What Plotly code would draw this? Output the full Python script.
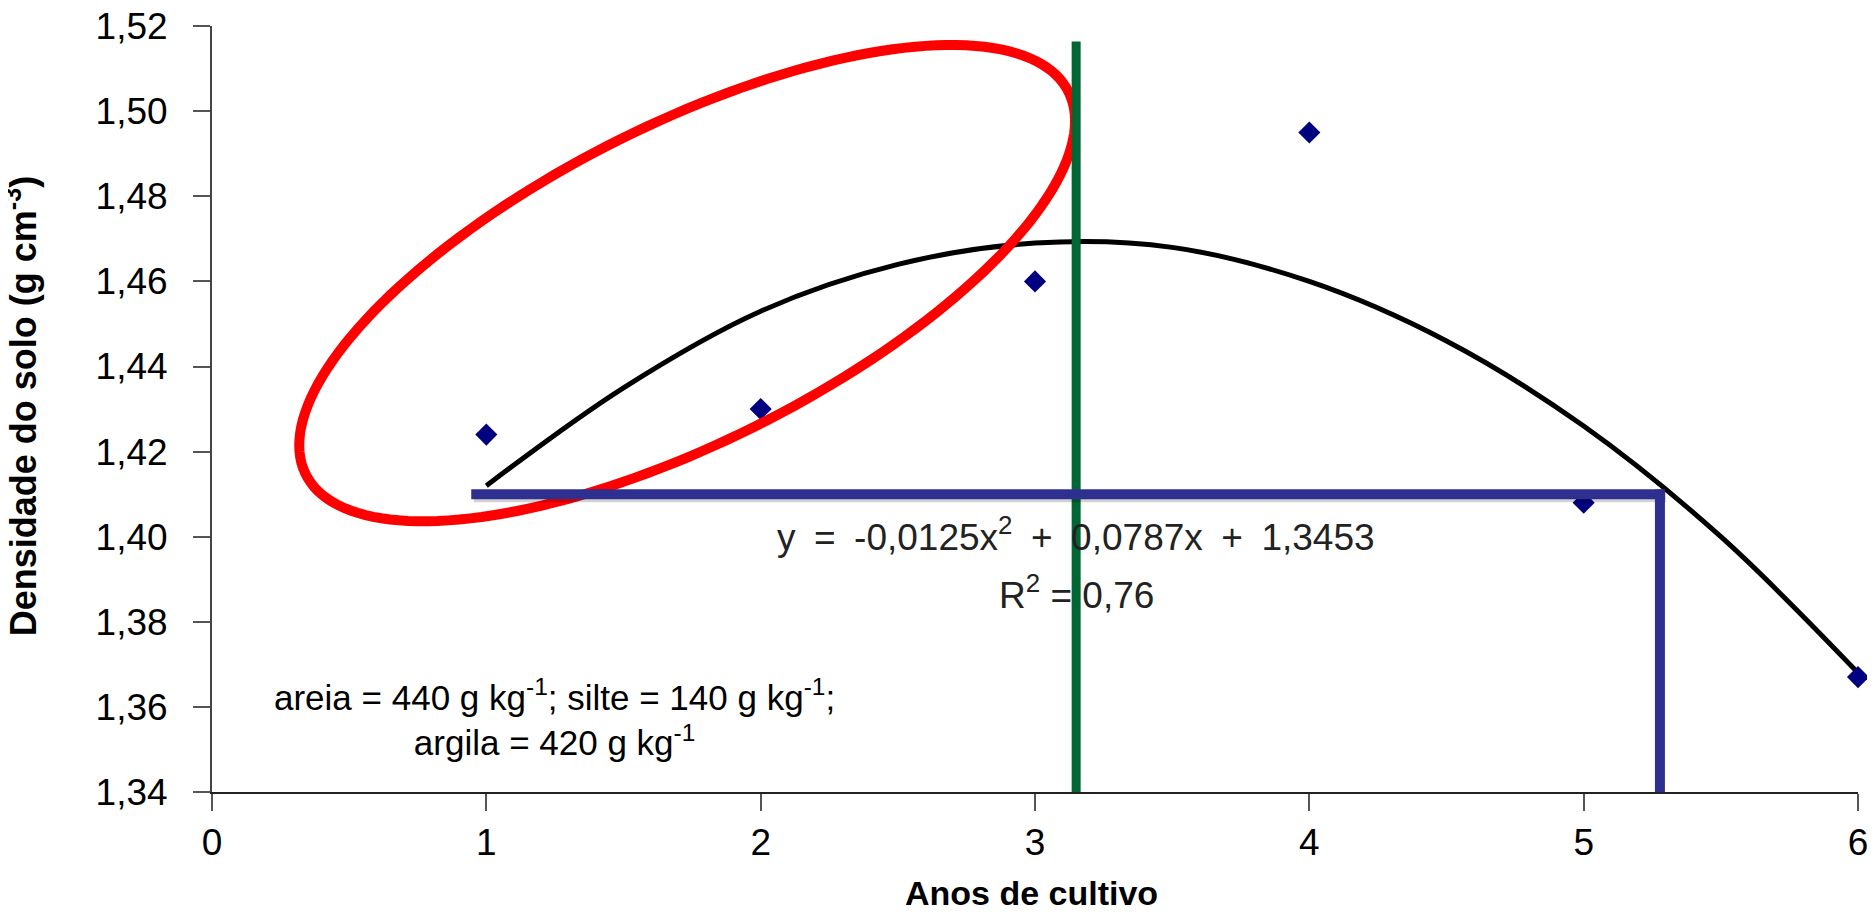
import numpy as np
import plotly.graph_objects as go

# ---- data ----
years = [1, 2, 3, 4, 5, 6]
density = [1.424, 1.430, 1.460, 1.495, 1.408, 1.367]

trend_x = [1.0, 1.5, 2.0, 2.5, 3.0, 3.5, 4.0, 4.5, 5.0, 5.5, 6.0]
trend_y = [1.412, 1.435, 1.453, 1.464, 1.469, 1.468, 1.460, 1.446, 1.426, 1.400, 1.368]

x_tickvals = [0, 1, 2, 3, 4, 5, 6]
x_ticktext = ["0", "1", "2", "3", "4", "5", "6"]
y_tickvals = [1.34, 1.36, 1.38, 1.40, 1.42, 1.44, 1.46, 1.48, 1.50, 1.52]
y_ticktext = ["1,34", "1,36", "1,38", "1,40", "1,42", "1,44", "1,46", "1,48", "1,50", "1,52"]

SP = "\u2002"  # wider spacing, as in the reference equation
equation_text = f"y{SP}={SP}-0,0125x<sup>2</sup>{SP}+{SP}0,0787x{SP}+{SP}1,3453"
r2_text = "R<sup>2</sup> = 0,76"
soil_text = "areia = 440 g kg<sup>-1</sup>; silte = 140 g kg<sup>-1</sup>;<br>argila = 420 g kg<sup>-1</sup>"

FONT = "Liberation Sans, Arial, sans-serif"

fig = go.Figure()
fig.add_trace(go.Scatter(x=trend_x, y=trend_y, mode="lines",
                         line=dict(color="black", width=5, shape="spline"),
                         hoverinfo="skip", showlegend=False))
fig.add_trace(go.Scatter(x=years, y=density, mode="markers",
                         marker=dict(symbol="diamond", size=17, color="#000080"),
                         showlegend=False, cliponaxis=False))

# ---- overlay highlight shapes ----
# red rotated ellipse (data coordinates)
ecx, ecy, esx, esy, er = 1.732, 1.4596, 1.414, 0.05597, 0.681
t = np.linspace(0, 2 * np.pi, 181)
ex = ecx + esx * np.cos(t)
ey = ecy + esy * (er * np.cos(t) + np.sqrt(1 - er ** 2) * np.sin(t))
path = "M " + " L ".join(f"{a:.4f},{b:.5f}" for a, b in zip(ex, ey)) + " Z"

shapes = [
    dict(type="path", path=path, xref="x", yref="y",
         line=dict(color="#FF0000", width=10), layer="above"),
    # green vertical line
    dict(type="line", xref="x", yref="y", x0=3.15, x1=3.15, y0=1.34, y1=1.5164,
         line=dict(color="#006633", width=9), layer="above"),
    # blue bracket shadow
    dict(type="line", xref="x", yref="y", x0=0.955, x1=5.30, y0=1.4093, y1=1.4093,
         line=dict(color="rgba(0,0,0,0.18)", width=10), layer="above"),
    # blue bracket
    dict(type="line", xref="x", yref="y", x0=0.945, x1=5.296, y0=1.41, y1=1.41,
         line=dict(color="#2E3090", width=10), layer="above"),
    dict(type="line", xref="x", yref="y", x0=5.278, x1=5.278, y0=1.34, y1=1.4111,
         line=dict(color="#2E3090", width=10), layer="above"),
    # left border strip of the image
    dict(type="rect", xref="paper", yref="paper", x0=-0.135, x1=-0.1268,
         y0=-0.2, y1=1.04, fillcolor="#777777", line=dict(width=0)),
]

annotations = [
    dict(x=3.15, y=1.4005, xref="x", yref="y", text=equation_text, showarrow=False,
         font=dict(family=FONT, size=37, color="#222222"), xanchor="center", yanchor="middle"),
    dict(x=3.15, y=1.3870, xref="x", yref="y", text=r2_text, showarrow=False,
         font=dict(family=FONT, size=37, color="#222222"), xanchor="center", yanchor="middle"),
    dict(x=1.25, y=1.3574, xref="x", yref="y", text=soil_text, showarrow=False, align="center",
         font=dict(family=FONT, size=35, color="black"), xanchor="center", yanchor="middle"),
    dict(x=-0.1163, y=0.503, xref="paper", yref="paper",
         text="<b>Densidade do solo (g cm<sup>-3</sup>)</b>", textangle=-90, showarrow=False,
         font=dict(family="Liberation Sans Narrow, Liberation Sans, Arial", size=36, color="black"),
         xanchor="center", yanchor="middle"),
    dict(x=0.498, y=-0.132, xref="paper", yref="paper", text="<b>Anos de cultivo</b>",
         showarrow=False,
         font=dict(family="Liberation Sans Narrow, Liberation Sans, Arial", size=34, color="black"),
         xanchor="center", yanchor="middle"),
]

# the page body adds an 8px offset, so the figure is 8px smaller and margins shifted
fig.update_layout(
    width=1867, height=906,
    margin=dict(l=204, r=17, t=18, b=122, autoexpand=False),
    paper_bgcolor="white", plot_bgcolor="white",
    shapes=shapes, annotations=annotations,
    font=dict(family=FONT, color="black"),
)
fig.update_xaxes(range=[0, 6], tickvals=x_tickvals, ticktext=x_ticktext, automargin=False,
                 showgrid=False, zeroline=False, showline=True, linecolor="#222222", linewidth=2,
                 ticks="outside", ticklen=17, tickwidth=2, tickcolor="#555555",
                 tickfont=dict(family=FONT, size=37, color="black"))
fig.update_yaxes(range=[1.34, 1.52003], tickvals=y_tickvals, ticktext=y_ticktext, automargin=False,
                 showgrid=False, zeroline=False, showline=True, linecolor="#444444", linewidth=2,
                 ticks="outside", ticklen=17, tickwidth=2, tickcolor="#555555",
                 ticklabeloverflow="allow",
                 tickfont=dict(family=FONT, size=37, color="black"), ticklabelstandoff=18)

fig.write_html("out.html")
